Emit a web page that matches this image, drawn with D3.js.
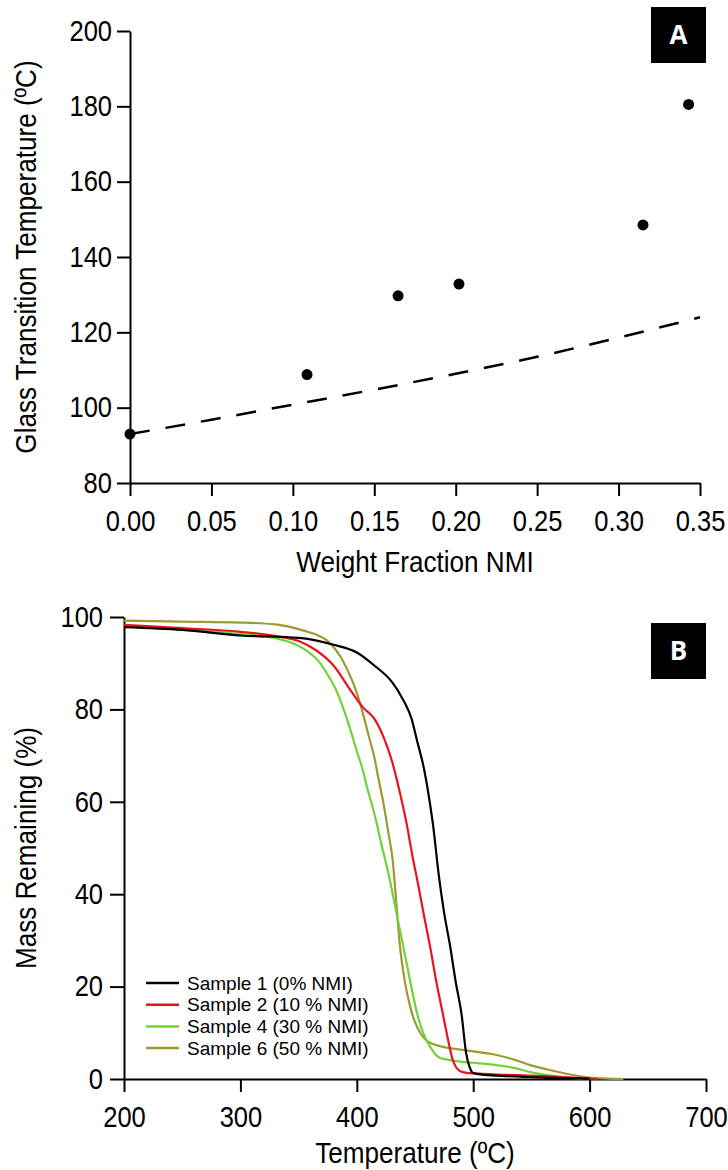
<!DOCTYPE html>
<html>
<head>
<meta charset="utf-8">
<script src="https://cdn.jsdelivr.net/npm/d3@7"></script>
<style>
  body { margin: 0; background: #fff; }
  svg { display: block; font-family: "Liberation Sans", Arial, sans-serif; }
  .eje path, .eje line { stroke: #000; stroke-width: 2px; }
  .eje text { font-size: 29px; fill: #000; }
</style>
</head>
<body>
<div id="graf"></div>
<script>
// Panel A - datos
const fraccionNMI = [0, 0.1087, 0.1646, 0.202, 0.315, 0.343]
const tgMedida    = [93, 108.8, 129.7, 132.8, 148.5, 180.5]
const fraccionFox = [0, 0.05, 0.10, 0.15, 0.20, 0.25, 0.30, 0.35]
const tgFox       = [93, 96.8, 100.8, 104.8, 109.0, 113.5, 118.6, 124.0]
const ticksA_x = [0, 0.05, 0.10, 0.15, 0.20, 0.25, 0.30, 0.35]
const ticksA_y = [80, 100, 120, 140, 160, 180, 200]

// Panel B - datos TGA (temperatura, masa)
const tempS1 = [200, 250, 300, 350, 380, 400, 415, 430, 440, 447, 452, 457, 462, 466, 470, 475, 480, 485, 490, 494, 497, 500, 510, 530, 560, 600]
const masaS1 = [97.8, 97.2, 96.0, 95.5, 94.0, 92.3, 89.5, 86, 82, 78, 73, 68, 61, 54, 45, 36, 29, 21, 14, 5.5, 2.5, 1.3, 0.9, 0.6, 0.3, 0.1]
const tempS2 = [200, 250, 300, 330, 350, 365, 380, 395, 405, 415, 423, 430, 437, 443, 448, 452, 458, 463, 468, 474, 478, 482, 486, 491, 500, 530, 570, 600, 607]
const masaS2 = [98.3, 97.6, 96.8, 95.9, 94.8, 92.8, 89.5, 84, 80.5, 78, 74, 69, 62, 55, 48, 43, 35, 28.6, 21.5, 14, 9, 4.5, 2.3, 1.5, 1.2, 0.9, 0.5, 0.1, 0]
const tempS4 = [200, 250, 300, 330, 345, 358, 367, 375, 382, 388, 394, 400, 405, 410, 415, 421, 428, 434, 440, 446, 452, 457, 463, 468, 472, 480, 491, 505, 520, 535, 549, 565, 577, 594]
const masaS4 = [98.0, 97.3, 96.3, 95.4, 94.3, 92.5, 90.5, 87.5, 84.3, 80.5, 76, 71, 67, 62, 57.5, 51, 43.5, 36, 28.6, 21, 14, 10, 7, 5.2, 4.5, 4.1, 3.7, 3.4, 3.0, 2.4, 1.5, 0.8, 0.4, 0]
const tempS6 = [200, 250, 300, 330, 345, 355, 365, 374, 380, 386, 392, 398, 402, 406, 410, 415, 419, 423, 427, 431, 434, 437, 441, 446, 450, 455, 460, 466, 475, 491, 505, 520, 535, 549, 563, 577, 592, 606, 629]
const masaS6 = [99.2, 99.0, 98.8, 98.4, 97.7, 97, 96.2, 95, 93.5, 91.4, 88.5, 85, 82, 78.4, 74.5, 69.7, 64.5, 59.5, 53.5, 47, 38, 29, 21.5, 15.5, 12.3, 9.8, 8.3, 7.5, 6.9, 6.3, 5.8, 5.2, 4.2, 3, 2.1, 1.3, 0.6, 0.2, 0]
const nombres = ['Sample 1 (0% NMI)', 'Sample 2 (10 % NMI)', 'Sample 4 (30 % NMI)', 'Sample 6 (50 % NMI)']
const colores = ['#000000', '#e8141c', '#72d23a', '#9c9a30']
const ticksB_x = [200, 300, 400, 500, 600, 700]
const ticksB_y = [0, 20, 40, 60, 80, 100]

const ancho = 728, alto = 1170
// la fuente original es algo estrecha: se comprime en horizontal
const estrechoTick = 0.88
const estrechoTit  = 0.9

svg = d3.select('#graf').append('svg')
        .attr('width', ancho)
        .attr('height', alto)

function ejeX(g) {
  g.selectAll('text').attr('transform', `scale(${estrechoTick},1)`)
}
function ejeY(g, pad) {
  g.selectAll('text')
   .attr('x', -pad / estrechoTick)
   .attr('transform', `scale(${estrechoTick},1)`)
}
function titulo(x, y, rot, txt) {
  svg.append('text')
     .attr('transform', `translate(${x},${y}) rotate(${rot}) scale(${estrechoTit},1)`)
     .attr('text-anchor', 'middle')
     .style('font-size', '29px')
     .text(txt)
}

// ---------- Panel A ----------
xA = d3.scaleLinear().domain([0, 0.35]).range([130, 700])
yA = d3.scaleLinear().domain([80, 200]).range([483, 31])

svg.append('g').attr('class', 'eje')
   .attr('transform', 'translate(0,483)')
   .call(d3.axisBottom(xA).tickValues(ticksA_x).tickFormat(d3.format('.2f'))
          .tickSize(13).tickSizeOuter(0).tickPadding(14))
   .call(ejeX)
svg.append('g').attr('class', 'eje')
   .attr('transform', 'translate(130,0)')
   .call(d3.axisLeft(yA).tickValues(ticksA_y)
          .tickSize(13).tickSizeOuter(0))
   .call(g => ejeY(g, 18))

lineaFox = d3.line().x(d => xA(d[0])).y(d => yA(d[1])).curve(d3.curveMonotoneX)
svg.append('path')
   .datum(d3.zip(fraccionFox, tgFox))
   .attr('d', lineaFox)
   .attr('fill', 'none')
   .attr('stroke', '#000')
   .attr('stroke-width', 2.5)
   .attr('stroke-dasharray', '20,16')

svg.append('g').selectAll('circle')
   .data(d3.zip(fraccionNMI, tgMedida))
   .enter().append('circle')
     .attr('cx', d => xA(d[0]))
     .attr('cy', d => yA(d[1]))
     .attr('r', 5.5)
     .attr('fill', '#000')

titulo(415, 572, 0, 'Weight Fraction NMI')
titulo(36, 257, -90, 'Glass Transition Temperature (ºC)')

// ---------- Panel B ----------
xB = d3.scaleLinear().domain([200, 700]).range([124, 706])
yB = d3.scaleLinear().domain([0, 100]).range([1079, 617])

svg.append('g').attr('class', 'eje')
   .attr('transform', 'translate(0,1079)')
   .call(d3.axisBottom(xB).tickValues(ticksB_x)
          .tickSize(13).tickSizeOuter(0).tickPadding(14))
   .call(ejeX)
svg.append('g').attr('class', 'eje')
   .attr('transform', 'translate(124,0)')
   .call(d3.axisLeft(yB).tickValues(ticksB_y)
          .tickSize(14).tickSizeOuter(0))
   .call(g => ejeY(g, 21))

series = [
  d3.zip(tempS1, masaS1),
  d3.zip(tempS2, masaS2),
  d3.zip(tempS4, masaS4),
  d3.zip(tempS6, masaS6)
]
lineaB = d3.line().x(d => xB(d[0])).y(d => yB(d[1])).curve(d3.curveMonotoneX)

// dibujar en orden inverso para que la negra quede arriba
svg.append('g').selectAll('path')
   .data(series.map((s, i) => ({ s, i })).reverse())
   .enter().append('path')
     .attr('d', d => lineaB(d.s))
     .attr('fill', 'none')
     .attr('stroke', d => colores[d.i])
     .attr('stroke-width', 2.2)

// leyenda
leyenda = svg.append('g')
nombres.forEach((n, i) => {
  let y = 983 + i * 21.7
  leyenda.append('line')
    .attr('x1', 146).attr('x2', 179)
    .attr('y1', y).attr('y2', y)
    .attr('stroke', colores[i])
    .attr('stroke-width', 2.5)
  leyenda.append('text')
    .attr('x', 187).attr('y', y)
    .attr('dy', '0.35em')
    .style('font-size', '19px')
    .text(n)
})

titulo(415, 1163, 0, 'Temperature (ºC)')
titulo(36, 848, -90, 'Mass Remaining (%)')

// etiquetas A y B
const etiquetas = [{ t: 'A', y: 7 }, { t: 'B', y: 623 }]
etiquetas.forEach(e => {
  svg.append('rect')
     .attr('x', 651).attr('y', e.y)
     .attr('width', 55).attr('height', 56)
     .attr('fill', '#000')
  svg.append('text')
     .attr('x', 678.5).attr('y', e.y + 28)
     .attr('dy', '0.36em')
     .attr('text-anchor', 'middle')
     .style('font-family', '"Open Sans", sans-serif')
     .style('font-weight', 'bold')
     .style('font-size', '26px')
     .style('fill', '#fff')
     .text(e.t)
})
</script>
</body>
</html>
